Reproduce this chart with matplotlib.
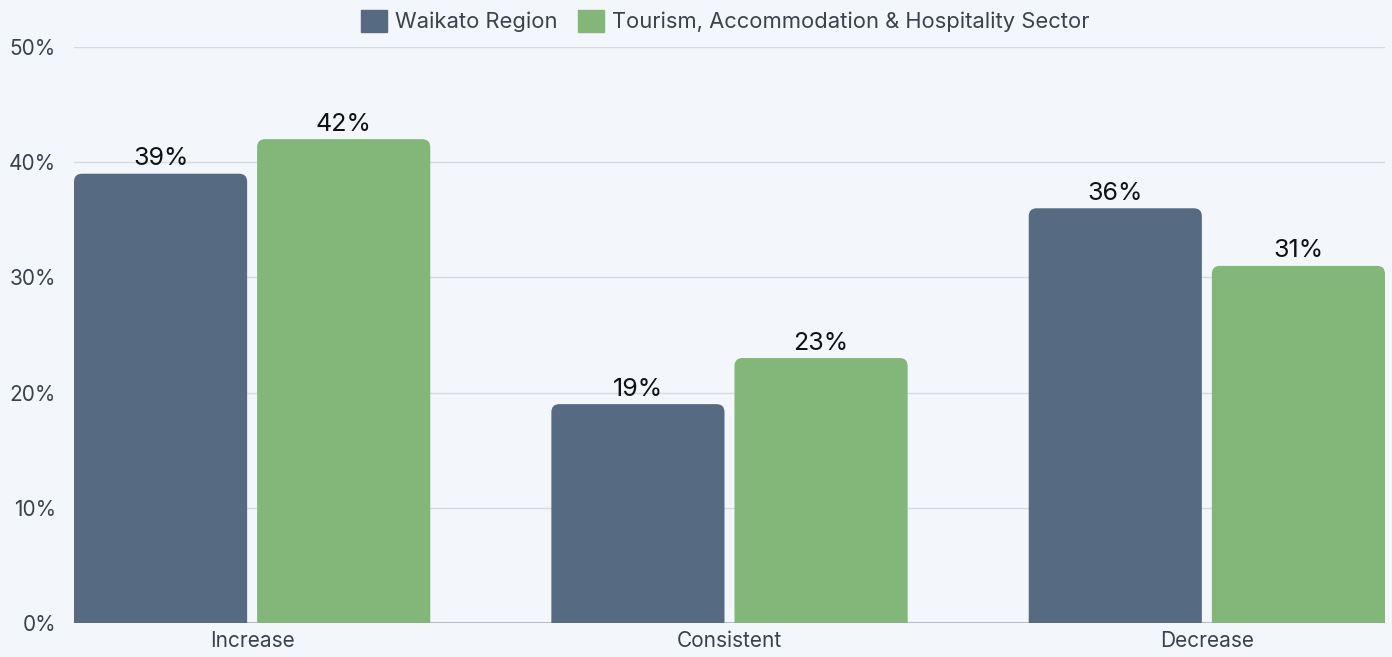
import matplotlib
matplotlib.use("Agg")
import matplotlib.pyplot as plt
from matplotlib.patches import FancyBboxPatch
import numpy as np

categories = ["Increase", "Consistent", "Decrease"]
series_names = ["Waikato Region", "Tourism, Accommodation & Hospitality Sector"]
waikato = [39, 19, 36]
tourism = [42, 23, 31]
yticks = [0, 10, 20, 30, 40, 50]
ytick_labels = ["0%", "10%", "20%", "30%", "40%", "50%"]

colors = ["#566b82", "#82b779"]
bg = "#f3f6fb"
text_col = "#3a424d"

plt.rcParams['font.family'] = ['Inter', 'DejaVu Sans']

fig = plt.figure(figsize=(13.92, 6.57), dpi=100, facecolor=bg)
ax = fig.add_axes([74/1392, 34/657, (1385-74)/1392, 576/657])
ax.set_facecolor(bg)

x = np.arange(len(categories))
w = 173/477
off = (173/2 + 5)/477

ax.set_xlim(-off - w/2, 2 + off + w/2)
ax.set_ylim(0, 50)

bars_all = []
for vals, o, c, name in [(waikato, -off, colors[0], series_names[0]),
                          (tourism, off, colors[1], series_names[1])]:
    bars = ax.bar(x + o, vals, width=w, color=c, label=name, zorder=3)
    bars_all.append(bars)

# rounded tops
rx = 8/477
ry = 8/(576/50)
for bars in bars_all:
    for r in bars:
        r.set_visible(False)
        p = FancyBboxPatch((r.get_x(), -ry*2), r.get_width(), r.get_height() + ry*2,
                           boxstyle=f"round,pad=0,rounding_size={rx}",
                           mutation_aspect=ry/rx, facecolor=r.get_facecolor(),
                           edgecolor="none", zorder=3)
        ax.add_patch(p)
        ax.annotate(f"{int(r.get_height())}%", (r.get_x() + r.get_width()/2, r.get_height()),
                    xytext=(0, 2.5), textcoords="offset points", ha="center", va="bottom",
                    fontsize=18, color="#111111", zorder=4)

ax.set_yticks(yticks)
ax.set_yticklabels(ytick_labels)
ax.set_xticks(x)
ax.set_xticklabels(categories)
ax.tick_params(axis="both", length=0, labelsize=15, labelcolor=text_col)
ax.tick_params(axis="y", pad=13)
ax.tick_params(axis="x", pad=6)
ax.grid(axis="y", color="#d7dbe1", linewidth=1, zorder=0)
ax.axhline(0, color="#b8bcc3", linewidth=1.5, zorder=2)
for s in ax.spines.values():
    s.set_visible(False)

handles = [plt.Rectangle((0, 0), 1, 1, color=c) for c in colors]
fig.legend(handles, series_names, loc="center", bbox_to_anchor=(725/1392, 1 - 21/657),
           ncol=2, frameon=False, fontsize=15.8, handlelength=1.2, handleheight=1.2,
           handletextpad=0.35, columnspacing=0.95, labelcolor=text_col)

fig.savefig("out.png", dpi=100, facecolor=bg)
